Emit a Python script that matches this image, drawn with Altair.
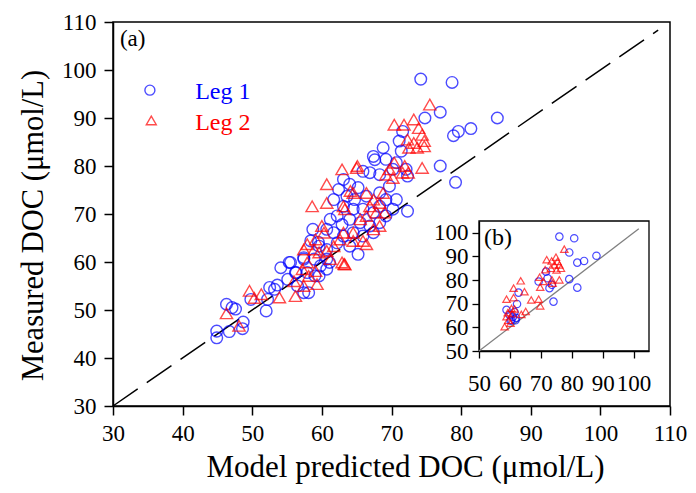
import altair as alt
import pandas as pd

SERIF = "Liberation Serif"
BLUE = "#0000ff"
RED = "#ff0000"

# ---------------- main panel (a) data ----------------
leg1_x = [74.2, 78.7, 77.0, 74.8, 85.2, 81.4, 79.6, 78.9, 77.0, 79.2, 72.3,
          71.6, 71.1, 71.4, 68.8, 67.4, 67.6, 69.2, 70.7, 70.2, 72.1, 72.3,
          65.9, 66.9, 68.3, 65.2, 63.1, 62.4, 64.0, 61.7, 63.6, 64.7, 66.4, 68.3, 69.7, 69.2, 70.7, 70.2,
          68.3, 67.4, 65.9, 64.5, 63.1, 62.2, 61.2, 62.9, 64.0, 65.5, 66.9, 68.3, 69.2, 60.7, 61.7, 63.1,
          64.5, 65.9, 67.4, 62.2, 64.0, 65.2, 58.4, 59.6, 57.4, 58.9, 60.7, 60.7, 55.3, 54.1, 56.2, 55.1,
          57.9, 56.5, 59.6, 60.7, 58.1, 53.2, 52.0, 52.2,
          44.9, 44.9, 46.3, 46.7, 47.1, 47.6, 48.7, 48.6, 49.8, 52.5, 53.6, 55.5, 56.3, 57.4, 57.4, 59.0,
          59.8, 61.1, 58.7, 59.5]
leg1_y = [98.1, 97.4, 91.2, 90.0, 90.0, 87.8, 87.2, 86.3, 80.0, 76.6, 70.6,
          87.2, 85.2, 83.1, 83.8, 82.0, 81.3, 81.4, 80.7, 79.3, 79.3, 77.9,
          78.9, 78.6, 78.2, 75.5, 77.2, 75.1, 76.2, 73.0, 73.7, 73.0, 73.7, 74.4, 75.8, 73.0, 73.0, 71.0,
          71.6, 70.3, 71.0, 71.0, 71.6, 69.6, 68.9, 67.8, 68.9, 68.2, 67.5, 68.2, 69.6, 66.8, 66.1, 65.4,
          66.1, 65.4, 66.1, 64.0, 63.3, 61.6, 64.4, 63.3, 60.6, 60.6, 62.6, 60.6, 59.9, 58.8, 57.8, 56.4,
          57.8, 55.0, 57.1, 58.5, 53.6, 54.3, 49.8, 52.2,
          45.6, 44.2, 51.2, 45.5, 50.5, 50.2, 47.5, 46.1, 52.2, 54.7, 55.2, 59.9, 57.8, 53.6, 60.9, 57.1,
          59.2, 59.9, 66.8, 64.1]

leg2_x = [75.5, 70.4, 71.8, 73.2, 73.9, 74.4, 72.3, 73.2, 74.7, 74.7, 73.7, 72.5, 74.4, 70.4, 71.9,
          71.6, 72.4, 69.7, 69.2, 70.2, 62.9, 65.0, 60.7, 58.6, 60.7, 63.1, 64.5, 66.4, 67.4, 68.3,
          66.9, 68.8, 67.8, 69.0, 66.4, 65.5, 68.3, 67.4, 65.9, 66.4, 64.5, 64.5, 60.0, 60.3, 59.1,
          57.9, 57.4, 58.9, 59.6, 60.7, 61.7, 63.1, 62.6, 62.9, 63.2, 61.2, 57.9, 57.2, 59.1, 58.1,
          56.0, 57.4, 59.3, 56.2, 53.9, 51.3, 49.6, 50.3, 46.3, 48.1, 63.3, 64.1, 63.3, 65.1]
leg2_y = [92.8, 88.6, 88.6, 89.7, 87.9, 86.5, 85.5, 84.8, 85.2, 84.1, 83.8, 83.8, 79.6, 80.7, 80.0,
          78.6, 78.6, 79.3, 78.2, 77.5, 79.3, 79.6, 76.2, 71.6, 72.3, 71.6, 74.4, 74.4, 73.0, 72.3,
          71.6, 74.4, 70.3, 70.3, 69.6, 68.9, 67.5, 66.8, 64.4, 63.7, 66.1, 64.4, 67.5, 66.1, 64.7,
          63.7, 62.6, 62.6, 62.0, 62.3, 63.3, 66.1, 64.7, 59.9, 59.6, 60.6, 59.9, 58.5, 58.1, 57.1,
          56.0, 55.0, 55.4, 52.9, 52.6, 53.3, 54.0, 52.5, 49.3, 46.7, 59.5, 74.8, 71.0, 80.0]

one_to_one = [30, 108.3]

# ---------------- inset panel (b) data ----------------
in1_x = [76.0, 80.8, 79.2, 88.0, 84.0, 81.8, 79.2, 81.8, 74.1, 69.3, 71.7, 72.2, 72.8, 73.6,
         62.8, 62.3, 58.9, 59.9, 61.0, 60.5, 61.5, 62.0, 60.2, 61.8]
in1_y = [98.4, 97.7, 91.7, 90.3, 88.1, 87.4, 80.4, 76.8, 70.9, 79.4, 83.6, 80.8, 76.6, 78.0,
         74.7, 69.9, 67.4, 65.3, 64.5, 63.1, 66.5, 64.0, 62.8, 63.0]
in2_x = [77.6, 71.9, 73.5, 74.9, 75.4, 74.4, 76.0, 76.5, 73.3, 71.4, 75.1, 69.6, 70.8, 73.6,
         76.0, 69.8, 73.8, 63.5, 61.2, 64.7, 58.9, 61.2, 66.9, 69.3, 69.8, 65.1, 63.7, 58.9,
         58.3, 59.3, 60.5, 59.5, 60.8, 61.5, 60.2]
in2_y = [93.1, 88.6, 88.1, 89.7, 87.9, 86.4, 86.4, 85.0, 85.0, 84.4, 84.3, 81.2, 79.4, 80.1,
         80.1, 77.0, 78.7, 79.7, 76.6, 75.1, 71.9, 72.6, 71.6, 71.9, 69.1, 66.7, 65.5, 64.5,
         60.3, 66.2, 68.0, 63.0, 65.8, 67.8, 61.8]
inset_line = [50, 101.7]
inset_box = [50, 105]

# ---------------- main panel ----------------
W, H = 557, 384
xs = alt.Scale(domain=[30, 110], nice=False, zero=False)
ys = alt.Scale(domain=[30, 110], nice=False, zero=False)
ticks_main = list(range(30, 111, 10))

ax_x = alt.Axis(values=ticks_main, tickSize=9, tickWidth=1.5, domainWidth=1.5, labelPadding=7,
                labelFontSize=23, titleFontSize=31, titlePadding=7, titleX=292, grid=False,
                labelOverlap=False, labelFlush=False)
ax_y = alt.Axis(values=ticks_main, tickSize=9, tickWidth=1.5, domainWidth=1.5, labelPadding=8,
                labelFontSize=23, titleFontSize=30.5, titlePadding=13, titleY=203, grid=False,
                labelOverlap=False, labelFlush=False)
XT = "Model predicted DOC (μmol/L)"
YT = "Measured DOC (μmol/L)"

def X(f="x"):
    return alt.X(f + ":Q", scale=xs, axis=ax_x, title=XT)

def Y(f="y"):
    return alt.Y(f + ":Q", scale=ys, axis=ax_y, title=YT)

blue = alt.Chart(pd.DataFrame({"x": leg1_x, "y": leg1_y})).mark_point(
    shape="circle", filled=False, color=BLUE, size=135, strokeWidth=1.4).encode(x=X(), y=Y())
red = alt.Chart(pd.DataFrame({"x": leg2_x, "y": leg2_y})).mark_point(
    shape="triangle-up", filled=False, color=RED, size=150, strokeWidth=1.4).encode(x=X(), y=Y())
diag = alt.Chart(pd.DataFrame({"x": one_to_one, "y": one_to_one})).mark_line(
    color="black", strokeWidth=1.5, strokeDash=[30, 11]).encode(x=X(), y=Y())

lab_a = alt.Chart(pd.DataFrame({"x": [31.0], "y": [108.7], "t": ["(a)"]})).mark_text(
    align="left", baseline="top", font=SERIF, fontSize=23, color="black").encode(x=X(), y=Y(), text="t:N")

leg_sym1 = alt.Chart(pd.DataFrame({"x": [35.3], "y": [95.8]})).mark_point(
    shape="circle", filled=False, color=BLUE, size=100, strokeWidth=1.4).encode(x=X(), y=Y())
leg_sym2 = alt.Chart(pd.DataFrame({"x": [35.5], "y": [89.5]})).mark_point(
    shape="triangle-up", filled=False, color=RED, size=100, strokeWidth=1.4).encode(x=X(), y=Y())
leg_t1 = alt.Chart(pd.DataFrame({"x": [41.8], "y": [94.0], "t": ["Leg 1"]})).mark_text(
    align="left", baseline="alphabetic", font=SERIF, fontSize=24, color=BLUE).encode(x=X(), y=Y(), text="t:N")
leg_t2 = alt.Chart(pd.DataFrame({"x": [41.8], "y": [87.4], "t": ["Leg 2"]})).mark_text(
    align="left", baseline="alphabetic", font=SERIF, fontSize=24, color=RED).encode(x=X(), y=Y(), text="t:N")

main = alt.layer(diag, blue, red, lab_a, leg_sym1, leg_sym2, leg_t1, leg_t2)

# ---------------- inset panel ----------------
ix = alt.Scale(domain=[50, 105], range=[366, 536], nice=False, zero=False)
iy = alt.Scale(domain=[50, 105], range=[329, 199], nice=False, zero=False)
ticks_in = list(range(50, 101, 10))
ax_ix = alt.Axis(orient="bottom", offset=-(H - 329), values=ticks_in, tickSize=7, tickWidth=1.3,
                 domainWidth=1.3, labelPadding=14, labelFontSize=23, grid=False,
                 labelOverlap=False, labelFlush=False, title=None)
ax_iy = alt.Axis(orient="left", offset=-366, values=ticks_in, tickSize=7, tickWidth=1.3,
                 domainWidth=1.3, labelPadding=4, labelFontSize=23, grid=False,
                 labelOverlap=False, labelFlush=False, title=None)

def IX(f="x"):
    return alt.X(f + ":Q", scale=ix, axis=ax_ix)

def IY(f="y"):
    return alt.Y(f + ":Q", scale=iy, axis=ax_iy)

box = alt.Chart(pd.DataFrame({"x": [inset_box[0]], "x2": [inset_box[1]],
                              "y": [inset_box[0]], "y2": [inset_box[1]]})).mark_rect(
    fillOpacity=0, stroke="black", strokeWidth=1.3).encode(x=IX(), x2="x2:Q", y=IY(), y2="y2:Q")
iline = alt.Chart(pd.DataFrame({"x": inset_line, "y": inset_line})).mark_line(
    color="#808080", strokeWidth=1.3).encode(x=IX(), y=IY())
iblue = alt.Chart(pd.DataFrame({"x": in1_x, "y": in1_y})).mark_point(
    shape="circle", filled=False, color=BLUE, size=55, strokeWidth=1.2).encode(x=IX(), y=IY())
ired = alt.Chart(pd.DataFrame({"x": in2_x, "y": in2_y})).mark_point(
    shape="triangle-up", filled=False, color=RED, size=55, strokeWidth=1.2).encode(x=IX(), y=IY())
lab_b = alt.Chart(pd.DataFrame({"x": [51.6], "y": [102.8], "t": ["(b)"]})).mark_text(
    align="left", baseline="top", font=SERIF, fontSize=24, color="black").encode(x=IX(), y=IY(), text="t:N")

inset = alt.layer(box, iline, iblue, ired, lab_b)

chart = alt.layer(main, inset).resolve_scale(x="independent", y="independent").properties(
    width=W, height=H,
    background="white",
    autosize=alt.AutoSizeParams(type="none"),
    padding={"left": 105, "top": 14, "right": 18, "bottom": 79},
).configure_view(stroke="black", strokeWidth=1.5).configure_axis(
    labelFont=SERIF, titleFont=SERIF, titleFontWeight="normal", labelColor="black",
    titleColor="black", domainColor="black", tickColor="black"
)

chart.save("out.html", embed_options={"renderer": "svg", "actions": False})
